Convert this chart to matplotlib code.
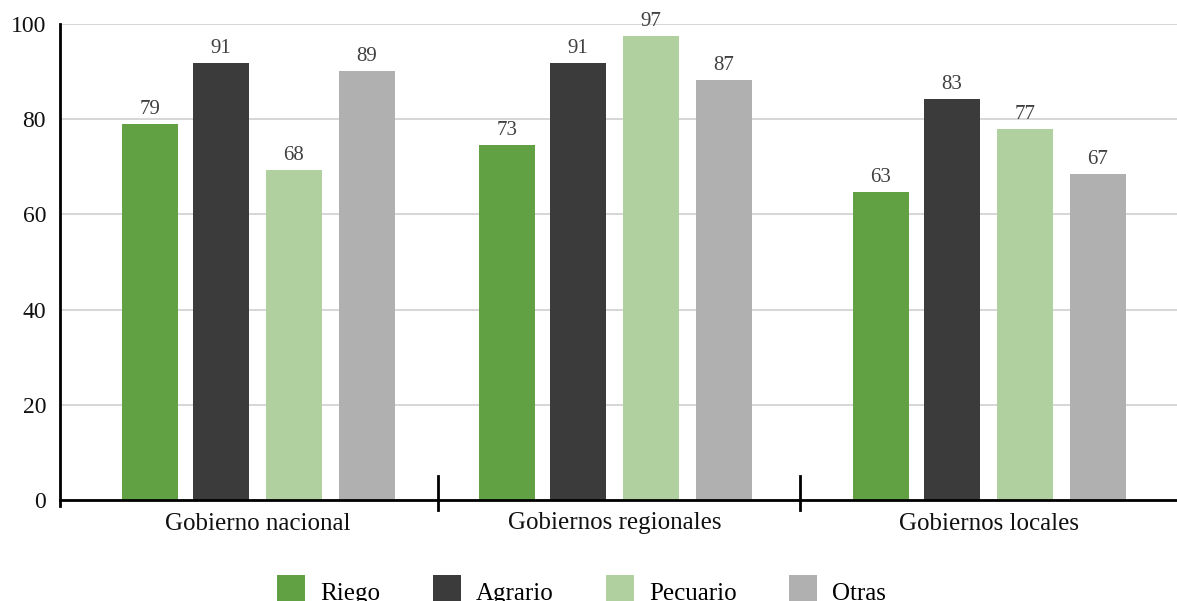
import matplotlib
matplotlib.use("Agg")
import matplotlib.pyplot as plt
from matplotlib.patches import Patch

plt.rcParams['font.family'] = ['Liberation Serif', 'DejaVu Serif']

categories = ["Gobierno nacional", "Gobiernos regionales", "Gobiernos locales"]
series = ["Riego", "Agrario", "Pecuario", "Otras"]
riego = [79.0, 74.6, 64.7]
agrario = [91.8, 91.8, 84.2]
pecuario = [69.3, 97.5, 77.9]
otras = [90.1, 88.2, 68.5]
riego_lbl = ["79", "73", "63"]
agrario_lbl = ["91", "91", "83"]
pecuario_lbl = ["68", "97", "77"]
otras_lbl = ["89", "87", "67"]
yticks = [0, 20, 40, 60, 80, 100]

colors = ["#62a044", "#3b3b3b", "#b0d0a0", "#b0b0b0"]
values = [riego, agrario, pecuario, otras]
labels = [riego_lbl, agrario_lbl, pecuario_lbl, otras_lbl]

W, H = 1177, 601
fig = plt.figure(figsize=(W / 100, H / 100), dpi=100)
ax = fig.add_axes([60 / W, (H - 500) / H, (W - 60) / W, 476 / H])
ax.set_xlim(60, 1177)
ax.set_ylim(0, 100)

group_centers = [258, 615, 989]
offsets = [-108, -37, 36, 109]
bar_w = 56

for s, (vals, lbls, col) in enumerate(zip(values, labels, colors)):
    xs = [g + offsets[s] for g in group_centers]
    ax.bar(xs, vals, width=bar_w, color=col, zorder=3)
    for x, v, l in zip(xs, vals, lbls):
        ax.annotate(l, (x, v), xytext=(0, 3.5), textcoords="offset points",
                    ha="center", va="bottom", fontsize=15, color="#404040", zorder=4)

ax.set_yticks(yticks)
ax.set_yticklabels([str(t) for t in yticks], fontsize=17, color="#111111")
ax.yaxis.grid(True, color="#d0d0d0", linewidth=1.2, zorder=0)
ax.set_axisbelow(True)
ax.tick_params(axis="y", length=0, pad=10)
ax.set_xticks(group_centers)
ax.set_xticklabels(categories, fontsize=18, color="#111111")
ax.tick_params(axis="x", length=0, pad=9)

for sp in ["top", "right"]:
    ax.spines[sp].set_visible(False)
ax.spines["left"].set_linewidth(2)
ax.spines["bottom"].set_linewidth(2)
ax.spines["left"].set_zorder(5)
ax.spines["bottom"].set_zorder(5)

# category separators
for xsep in [438, 800]:
    ax.plot([xsep, xsep], [-10 / 4.76, 24 / 4.76], color="black", lw=2,
            clip_on=False, zorder=6)
ax.plot([60, 60], [0, -6 / 4.76], color="black", lw=2, clip_on=False, zorder=6)

handles = [Patch(facecolor=c, edgecolor="none") for c in colors]
fig.legend(handles, series, loc="upper left", bbox_to_anchor=(277 / W, 1 - 575 / H),
           ncol=4, frameon=False, fontsize=18, handlelength=1.12, handleheight=1.7,
           handletextpad=0.6, columnspacing=2.1, borderpad=0, borderaxespad=0)

fig.savefig("out.png", dpi=100)
